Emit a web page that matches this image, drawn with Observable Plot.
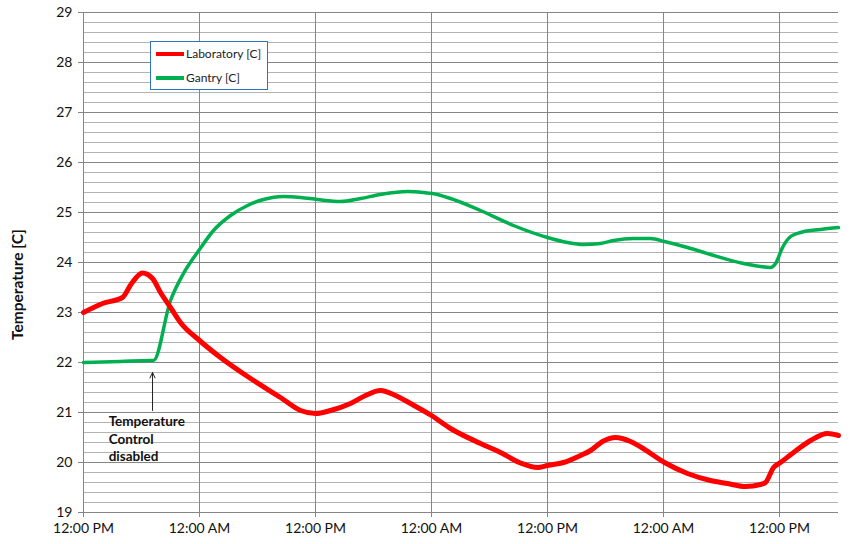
<!DOCTYPE html>
<html>
<head>
<meta charset="utf-8">
<script src="https://cdn.jsdelivr.net/npm/d3@7"></script>
<script src="https://cdn.jsdelivr.net/npm/@observablehq/plot@0.6"></script>
<style>
  html, body { margin: 0; padding: 0; background: #fff; }
  #wrap { position: relative; width: 855px; height: 544px; font-family: Lato, "Open Sans", sans-serif; }
  #legend { position: absolute; left: 150px; top: 41px; width: 116px; height: 47px; border: 1px solid #2f72bd; background: #fff; font-size: 12px; color: #222; }
  .li { position: absolute; left: 5px; display: flex; align-items: center; white-space: nowrap; }
  .sw { width: 28px; height: 4px; margin-right: 2px; }
</style>
</head>
<body>
<div id="wrap"></div>
<script>
// Hours since the first 12:00 PM
const labHours = [0, 1.97, 4.03, 4.97, 6.10, 7.14, 7.97, 9.0, 10.03, 12.0, 14.17, 17.28, 20.38, 22.45, 24.0, 25.55, 27.62, 29.17, 30.72, 32.28, 33.83, 36.0, 37.97, 41.07, 43.14, 45.21, 46.97, 48.0, 49.66, 51.41, 52.45, 53.69, 55.03, 56.59, 57.72, 60.10, 62.48, 64.86, 66.62, 68.48, 70.03, 70.55, 71.38, 72.10, 73.45, 75.21, 76.97, 78.1];
const labTemp  = [23.00, 23.18, 23.30, 23.58, 23.79, 23.68, 23.40, 23.10, 22.80, 22.44, 22.10, 21.68, 21.30, 21.04, 20.98, 21.04, 21.18, 21.34, 21.44, 21.34, 21.18, 20.94, 20.68, 20.38, 20.20, 19.99, 19.90, 19.94, 20.00, 20.14, 20.24, 20.42, 20.50, 20.42, 20.30, 20.00, 19.78, 19.64, 19.58, 19.52, 19.56, 19.60, 19.90, 20.00, 20.20, 20.44, 20.58, 20.54];

const gantryHours = [0, 3.83, 6.93, 7.24, 9.0, 10.34, 12.0, 13.45, 15.21, 16.97, 18.62, 20.69, 22.45, 24.21, 26.59, 28.66, 30.72, 33.52, 35.17, 36.10, 37.97, 41.07, 44.48, 48.0, 50.07, 51.72, 53.48, 54.83, 56.90, 58.66, 60.10, 62.48, 64.86, 68.28, 70.03, 71.07, 71.59, 72.31, 73.14, 74.17, 76.24, 78.1];
const gantryTemp  = [22.00, 22.02, 22.04, 22.04, 23.24, 23.78, 24.26, 24.64, 24.94, 25.14, 25.26, 25.32, 25.30, 25.26, 25.22, 25.28, 25.36, 25.42, 25.40, 25.38, 25.28, 25.04, 24.74, 24.50, 24.40, 24.36, 24.38, 24.44, 24.48, 24.48, 24.42, 24.30, 24.16, 23.98, 23.92, 23.90, 23.98, 24.30, 24.52, 24.60, 24.66, 24.70];

const xTickHours  = [0, 12, 24, 36, 48, 60, 72];
const xTickLabels = ["12:00 PM", "12:00 AM", "12:00 PM", "12:00 AM", "12:00 PM", "12:00 AM", "12:00 PM"];
const yMajor = [19, 20, 21, 22, 23, 24, 25, 26, 27, 28, 29];
const yMinor = d3.range(19, 29.001, 0.2).map(v => +v.toFixed(1)).filter(v => !yMajor.includes(v));

const seriesNames = ["Laboratory [C]", "Gantry [C]"];
const seriesColors = ["#ff0000", "#00b050"];

const annotText = "Temperature\nControl\ndisabled";
const annotArrow = {x: 7.14, yFrom: 21.04, yTo: 21.8};
const annotTextPos = {x: 2.6, y: 20.98};

const lab = labHours.map((h, i) => ({h, t: labTemp[i]}));
const gantry = gantryHours.map((h, i) => ({h, t: gantryTemp[i]}));

const chart = Plot.plot({
  width: 855,
  height: 544,
  marginLeft: 83,
  marginRight: 17,
  marginTop: 12,
  marginBottom: 32,
  style: {fontFamily: "Lato, 'Open Sans', sans-serif", fontSize: "14px", color: "#111", background: "#fff"},
  x: {domain: [0, 78.1]},
  y: {domain: [19, 29]},
  marks: [
    Plot.ruleY(yMinor, {stroke: "#b3b3b3", strokeWidth: 1}),
    Plot.ruleY(yMajor, {stroke: "#868686", strokeWidth: 1}),
    Plot.ruleX(xTickHours, {stroke: "#868686", strokeWidth: 1}),
    Plot.axisY({ticks: yMajor, tickSize: 5, tickPadding: 6, label: null, stroke: "#868686", fontSize: 14}),
    Plot.axisX({ticks: xTickHours, tickSize: 5, tickPadding: 6, label: null, stroke: "#868686", fontSize: 14,
      tickFormat: d => xTickLabels[xTickHours.indexOf(d)]}),
    Plot.text(["Temperature [C]"], {frameAnchor: "left", textAnchor: "middle", rotate: -90, dx: -65, dy: 22, fontWeight: "bold", fontSize: 15.5}),
    Plot.line(gantry, {x: "h", y: "t", stroke: seriesColors[1], strokeWidth: 3.5, curve: "monotone-x"}),
    Plot.line(lab, {x: "h", y: "t", stroke: seriesColors[0], strokeWidth: 5, curve: "monotone-x"}),
    Plot.arrow([annotArrow], {x: "x", y1: "yFrom", y2: "yTo", stroke: "#222", strokeWidth: 1, headLength: 9, headAngle: 50, insetEnd: 0}),
    Plot.text([annotTextPos], {x: "x", y: "y", text: () => annotText, textAnchor: "start", lineAnchor: "top", fontWeight: "bold", fontSize: 13.5, lineHeight: 1.3, fill: "#111"})
  ]
});

const wrap = document.getElementById("wrap");
wrap.appendChild(chart);

const legend = document.createElement("div");
legend.id = "legend";
seriesNames.forEach((name, i) => {
  const item = document.createElement("div");
  item.className = "li";
  item.style.top = (i === 0 ? 4 : 28) + "px";
  const sw = document.createElement("span");
  sw.className = "sw";
  sw.style.background = seriesColors[i];
  const tx = document.createElement("span");
  tx.textContent = name;
  item.appendChild(sw);
  item.appendChild(tx);
  legend.appendChild(item);
});
wrap.appendChild(legend);
</script>
</body>
</html>
